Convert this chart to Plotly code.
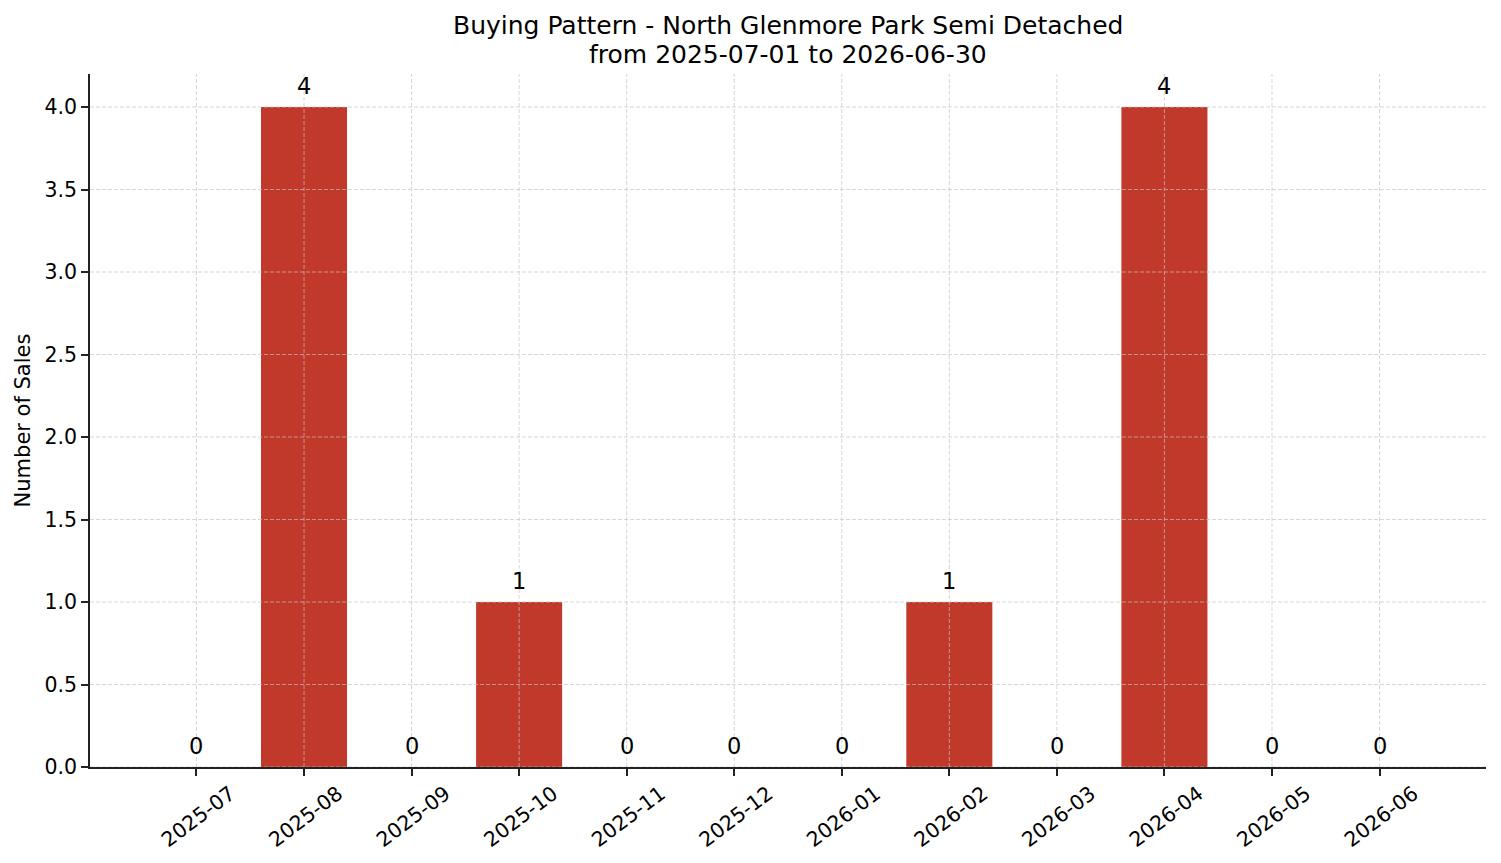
import plotly.graph_objects as go

months = ["2025-07", "2025-08", "2025-09", "2025-10", "2025-11", "2025-12",
          "2026-01", "2026-02", "2026-03", "2026-04", "2026-05", "2026-06"]
sales = [0, 4, 0, 1, 0, 0, 0, 1, 0, 4, 0, 0]
y_ticks = [0.0, 0.5, 1.0, 1.5, 2.0, 2.5, 3.0, 3.5, 4.0]
y_ticktext = ["0.0", "0.5", "1.0", "1.5", "2.0", "2.5", "3.0", "3.5", "4.0"]
title_lines = ["Buying Pattern - North Glenmore Park Semi Detached",
               "from 2025-07-01 to 2026-06-30"]

FONT = "DejaVu Sans"
BAR = "#c0392b"
GRID = "rgba(195,195,195,0.75)"

fig = go.Figure()
fig.add_trace(go.Bar(x=months, y=sales, width=0.8, marker=dict(color=BAR, line=dict(width=0)),
                     showlegend=False, hoverinfo="x+y"))

shapes = []
for m in months:
    shapes.append(dict(type="line", xref="x", yref="paper", x0=m, x1=m, y0=0, y1=1,
                       line=dict(color=GRID, width=0.9, dash="4px,2px"), layer="above"))
for t in y_ticks:
    shapes.append(dict(type="line", xref="paper", yref="y", x0=0, x1=1, y0=t, y1=t,
                       line=dict(color=GRID, width=0.9, dash="4px,2px"), layer="above"))

annotations = []
for m, v in zip(months, sales):
    annotations.append(dict(x=m, y=v, xref="x", yref="y", text=str(v), showarrow=False,
                            yanchor="bottom", yshift=6,
                            font=dict(family=FONT, size=22.5, color="#000")))
# title lines (pixel offsets above plot area top)
for i, line in enumerate(title_lines):
    annotations.append(dict(x=0.5, y=1, xref="paper", yref="paper", text=line, showarrow=False,
                            xanchor="center", yanchor="middle", yshift=49 - 29 * i,
                            font=dict(family=FONT, size=25, color="#000")))

fig.update_layout(
    width=1501, height=863,
    margin=dict(l=90, r=15, t=74, b=96, autoexpand=False),
    paper_bgcolor="white", plot_bgcolor="white",
    font=dict(family=FONT, size=20, color="#000"),
    shapes=shapes, annotations=annotations,
    bargap=0.2,
)
fig.update_xaxes(type="category", categoryorder="array", categoryarray=months,
                 range=[-0.99, 11.99], showgrid=False, zeroline=False, automargin=False,
                 showline=True, linecolor="#222", linewidth=1.6,
                 ticks="outside", ticklen=7, tickwidth=1.6, tickcolor="#222",
                 tickangle=-37, ticklabelshift=34, ticklabelstandoff=-2,
                 tickfont=dict(family=FONT, size=20.5, color="#000"))
fig.update_yaxes(range=[0, 4.2], tickvals=y_ticks, ticktext=y_ticktext,
                 showgrid=False, zeroline=False, automargin=False,
                 showline=True, linecolor="#222", linewidth=1.6,
                 ticks="outside", ticklen=7, tickwidth=1.6, tickcolor="#222",
                 tickfont=dict(family=FONT, size=20.5, color="#000"),
                 title=dict(text="Number of Sales", standoff=8,
                            font=dict(family=FONT, size=21, color="#000")))

fig.write_html("out.html")
